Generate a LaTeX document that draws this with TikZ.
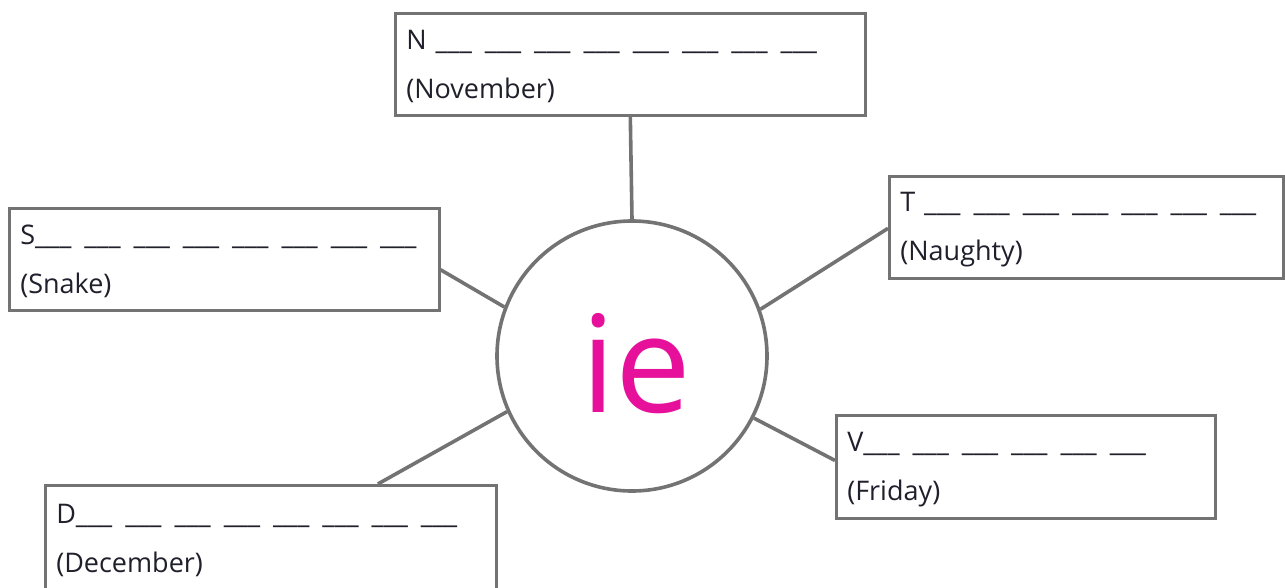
\documentclass[tikz,border=0pt]{standalone}
\usepackage{fontspec}
\setmainfont{Open Sans}
\usetikzlibrary{calc}
\definecolor{linegray}{HTML}{737373}
\definecolor{inkpink}{HTML}{E6109B}
\definecolor{inkdark}{HTML}{20202C}
\newcommand\bk{\_\_\_}
\newcommand\bgap{\hskip 13pt}
\newcommand\lnstrut{\rule{0pt}{24pt}}
\begin{document}
\begin{tikzpicture}[x=1pt,y=-1pt,
  wordbox/.style={draw=linegray, line width=2.6pt, fill=white, anchor=north west,
    inner xsep=11pt, inner ysep=0pt, align=left, text=inkdark,
    font=\fontsize{27}{49}\selectfont},
  hub/.style={circle, draw=linegray, line width=3.6pt, fill=white, minimum size=270pt,
    inner sep=0pt},
  hubtext/.style={text=inkpink, font=\fontsize{135}{135}\selectfont, inner sep=0pt},
  link/.style={draw=linegray, line width=3.6pt}
]
\useasboundingbox (0,0) rectangle (1285,587);
\clip (0,0) rectangle (1285,587);
\node[hub] (C) at (632,356) {};
\node[hubtext] (ie) at ([xshift=4pt,yshift=-8pt]C.center) {ie};
\node[wordbox, minimum width=470pt, minimum height=102pt, text width=448pt] (N) at (394,12)
  {\lnstrut N \bk\bgap\bk\bgap\bk\bgap\bk\bgap\bk\bgap\bk\bgap\bk\bgap\bk\\(November)};
\node[wordbox, minimum width=430pt, minimum height=102pt, text width=408pt] (S) at (8,207)
  {\lnstrut S\bk\bgap\bk\bgap\bk\bgap\bk\bgap\bk\bgap\bk\bgap\bk\bgap\bk\\(Snake)};
\node[wordbox, minimum width=394pt, minimum height=102pt, text width=372pt] (T) at (888,175)
  {\lnstrut T \bk\bgap\bk\bgap\bk\bgap\bk\bgap\bk\bgap\bk\bgap\bk\\(Naughty)};
\node[wordbox, minimum width=451pt, minimum height=106pt, text width=429pt] (D) at (44,484)
  {\lnstrut D\bk\bgap\bk\bgap\bk\bgap\bk\bgap\bk\bgap\bk\bgap\bk\bgap\bk\\(December)};
\node[wordbox, minimum width=379pt, minimum height=103pt, text width=357pt] (V) at (835,414)
  {\lnstrut V\bk\bgap\bk\bgap\bk\bgap\bk\bgap\bk\bgap\bk\\(Friday)};
\coordinate (Sa) at ($(S.north east)!0.6!(S.south east)$);
\coordinate (Ta) at ($(T.north west)!0.51!(T.south west)$);
\coordinate (Da) at ($(D.north west)!0.736!(D.north east)$);
\coordinate (Va) at ($(V.north west)!0.44!(V.south west)$);
\draw[link] (N.south) -- (C.90);
\draw[link] (Sa) -- (C.159.3);
\draw[link] (Ta) -- (C.20.6);
\draw[link] (Da) -- (C.204.5);
\draw[link] (Va) -- (C.333.6);
\end{tikzpicture}
\end{document}
